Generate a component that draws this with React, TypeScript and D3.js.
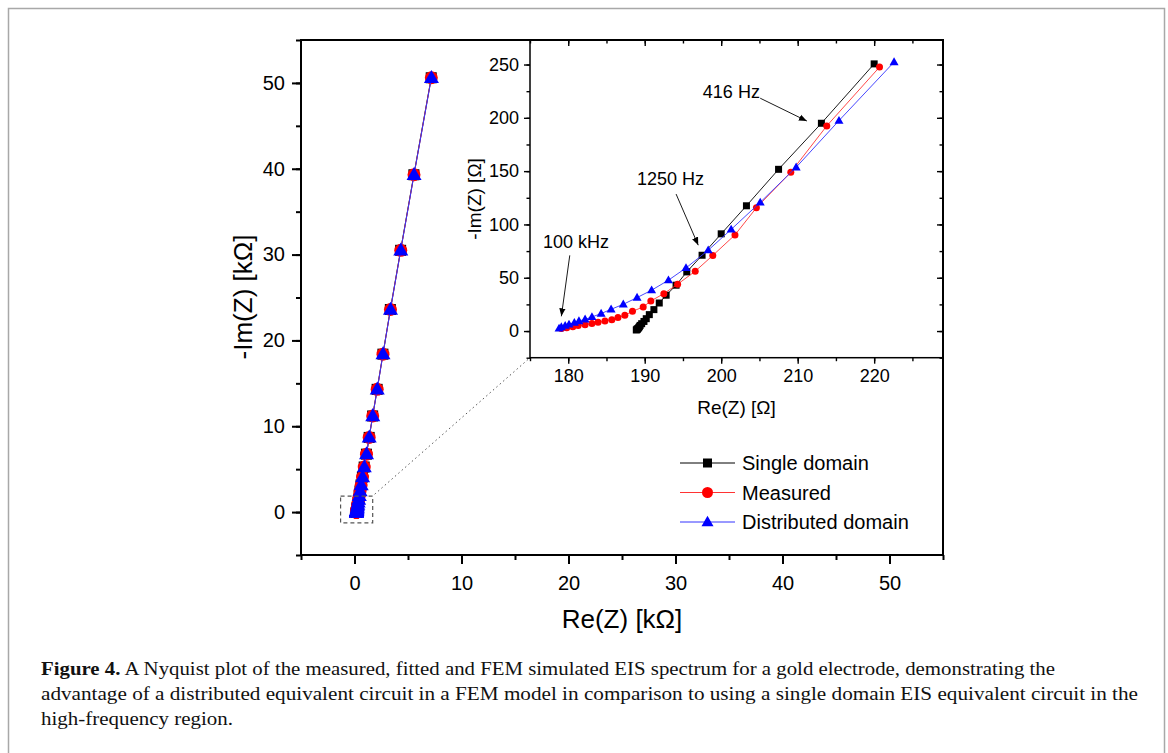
import { useEffect, useRef } from 'react';
import * as d3 from 'd3';

const W = 1168;
const H = 753;

// Re / -Im in ohm, from high to low frequency
const singleRe = [188.9, 189.0, 189.0, 189.1, 189.2, 189.3, 189.4, 189.6, 189.9, 190.2, 190.6, 191.2, 191.9, 192.8, 194.1, 195.5, 197.5, 200.0, 203.3, 207.5, 213.1, 220.0, 229, 240, 255, 275, 301, 335, 379, 437, 512, 610, 738, 903, 1115, 1370, 1695, 2115, 2655, 3350, 4310, 5550, 7170];
const singleIm = [1.0, 1.4, 1.8, 2.4, 3.1, 4.1, 5.3, 6.9, 9.0, 11.6, 15.4, 20.1, 26.3, 33.6, 43.0, 55.5, 71.1, 91.2, 117.5, 151.7, 194.9, 250.6, 322, 414, 534, 688, 888, 1140, 1470, 1900, 2450, 3160, 4080, 5250, 6750, 8700, 11200, 14300, 18400, 23600, 30500, 39300, 50600];

const measuredRe = [179.1, 179.8, 180.6, 181.3, 182.2, 183.1, 183.9, 184.8, 185.7, 186.5, 187.4, 188.4, 189.8, 190.8, 192.5, 194.3, 196.6, 198.9, 201.8, 204.6, 209.1, 213.8, 220.7, 230, 242, 258, 279, 306, 341, 386, 445, 520, 620, 750, 910, 1120, 1370, 1700, 2120, 2660, 3360, 4320, 5560, 7180];
const measuredIm = [2.5, 3.2, 4.1, 5.1, 6.0, 7.0, 8.2, 9.4, 10.7, 12.6, 14.8, 18.5, 22.6, 28.2, 35.1, 43.9, 56.1, 70.9, 90.2, 115.6, 148.9, 192.4, 247.6, 320, 410, 530, 685, 885, 1140, 1470, 1900, 2450, 3160, 4080, 5250, 6750, 8700, 11200, 14300, 18400, 23600, 30500, 39300, 50600];

const distRe = [178.8, 179.1, 179.6, 180.1, 180.8, 181.4, 182.2, 183.1, 184.3, 185.6, 187.2, 189.0, 190.9, 193.1, 195.4, 198.3, 201.3, 205.1, 209.8, 215.4, 222.6, 232, 245, 262, 283, 310, 345, 390, 449, 525, 625, 755, 915, 1125, 1375, 1705, 2125, 2665, 3365, 4325, 5565, 7190];
const distIm = [2.5, 3.8, 5.1, 6.3, 7.9, 9.4, 11.0, 13.2, 16.4, 20.4, 25.1, 31.4, 38.3, 47.7, 59.2, 75.8, 95.3, 120.7, 153.6, 197.4, 252.3, 325, 418, 538, 692, 892, 1145, 1475, 1905, 2455, 3165, 4085, 5255, 6755, 8705, 11205, 14305, 18405, 23605, 30505, 39305, 50605];

const seriesNames = ['Single domain', 'Measured', 'Distributed domain'];

const mainTicks = [0, 10, 20, 30, 40, 50];
const mainMinor = d3.range(-5, 56, 5);
const insetXTicks = [180, 190, 200, 210, 220];
const insetXMinor = d3.range(175, 230, 5);
const insetYTicks = [0, 50, 100, 150, 200, 250];
const insetYMinor = d3.range(-25, 275, 25);
// the inset only shows the high-frequency part of each spectrum
const insetMaxIm = 260;

// zoom box drawn on the main plot (kΩ)
const zoomBox = { x0: -1.3, x1: 1.7, y0: -1.25, y1: 1.85 };

// annotations in inset coordinates: text pos, arrow from, arrow to
const notes = [
  { label: '416 Hz', tx: 197.6, ty: 218.7, ax: 205.1, ay: 218.4, bx: 211.2, by: 197 },
  { label: '1250 Hz', tx: 189.0, ty: 137, ax: 194.1, ay: 128.5, bx: 197.0, by: 80.5 },
  { label: '100 kHz', tx: 176.7, ty: 77.7, ax: 180.2, ay: 71, bx: 179.1, by: 13.8 },
];

const captionLines = [
  'A Nyquist plot of the measured, fitted and FEM simulated EIS spectrum for a gold electrode, demonstrating the',
  'advantage of a distributed equivalent circuit in a FEM model in comparison to using a single domain EIS equivalent circuit in the',
  'high-frequency region.',
];

const SANS = 'Liberation Sans, Arial, sans-serif';

const App = () => {
  const svgRef = useRef<SVGSVGElement | null>(null);

  useEffect(() => {
    const svg = d3.select(svgRef.current);
    svg.selectAll('*').remove();

    const series = [
      { name: seriesNames[0], re: singleRe, im: singleIm, color: '#000000', line: '#000000', shape: 'square' },
      { name: seriesNames[1], re: measuredRe, im: measuredIm, color: '#ff0000', line: '#ff3333', shape: 'circle' },
      { name: seriesNames[2], re: distRe, im: distIm, color: '#0000ff', line: '#3333ff', shape: 'triangle' },
    ];

    // figure frame
    svg.append('rect').attr('x', 8.5).attr('y', 8.5).attr('width', 1156).attr('height', 770)
      .attr('fill', 'none').attr('stroke', '#a8a8a8').attr('stroke-width', 1.5);

    const defs = svg.append('defs');
    defs.append('marker').attr('id', 'arrow').attr('viewBox', '0 0 10 10').attr('refX', 10).attr('refY', 5)
      .attr('markerWidth', 8).attr('markerHeight', 8).attr('markerUnits', 'userSpaceOnUse').attr('orient', 'auto')
      .append('path').attr('d', 'M0,1 L10,5 L0,9 Z').attr('fill', '#000');

    // main scales (kΩ)
    const x = d3.scaleLinear().domain([-5, 55]).range([301, 943]);
    const y = d3.scaleLinear().domain([-5, 55]).range([555, 40]);

    const drawMarker = (g: any, shape: string, px: number, py: number, s: number, color: string) => {
      if (shape === 'circle') {
        g.append('circle').attr('cx', px).attr('cy', py).attr('r', s / 2).attr('fill', color);
      } else if (shape === 'square') {
        g.append('rect').attr('x', px - s / 2).attr('y', py - s / 2).attr('width', s).attr('height', s).attr('fill', color);
      } else {
        const h = s * 0.87;
        g.append('path')
          .attr('d', `M${px},${py - h * 0.6} L${px + s / 2},${py + h * 0.4} L${px - s / 2},${py + h * 0.4} Z`)
          .attr('fill', color);
      }
    };

    // main axes
    const mainAxes = svg.append('g').attr('font-family', SANS);
    const xm = mainAxes.append('g').attr('transform', 'translate(0,555)');
    xm.append('g').call(d3.axisBottom(x).tickValues(mainMinor).tickSize(5).tickFormat(() => ''));
    xm.append('g').call(d3.axisBottom(x).tickValues(mainTicks).tickSize(9).tickPadding(12).tickFormat(d3.format('d')));
    const ym = mainAxes.append('g').attr('transform', 'translate(301,0)');
    ym.append('g').call(d3.axisLeft(y).tickValues(mainMinor).tickSize(5).tickFormat(() => ''));
    ym.append('g').call(d3.axisLeft(y).tickValues(mainTicks).tickSize(9).tickPadding(7).tickFormat(d3.format('d')));
    mainAxes.selectAll('.domain').remove();
    mainAxes.selectAll('.tick line').attr('stroke', '#000').attr('stroke-width', 2);
    mainAxes.selectAll('.tick text').attr('font-size', 20).attr('fill', '#000').attr('font-family', SANS);

    svg.append('text').attr('x', 622).attr('y', 628).attr('text-anchor', 'middle')
      .attr('font-family', SANS).attr('font-size', 26).text('Re(Z) [kΩ]');
    svg.append('text').attr('transform', 'translate(252,297) rotate(-90)').attr('text-anchor', 'middle')
      .attr('font-family', SANS).attr('font-size', 26).text('-Im(Z) [kΩ]');

    // main data
    defs.append('clipPath').attr('id', 'main-clip').append('rect').attr('x', 301).attr('y', 40).attr('width', 642).attr('height', 515);
    const mainData = svg.append('g').attr('clip-path', 'url(#main-clip)');
    const mainSizes: Record<string, number> = { square: 11, circle: 13, triangle: 15 };
    series.forEach((s) => {
      const pts = s.re.map((r, i) => [x(r / 1000), y(s.im[i] / 1000)] as [number, number]);
      mainData.append('path').attr('d', d3.line()(pts)).attr('fill', 'none').attr('stroke', s.line).attr('stroke-width', 1);
      pts.forEach(([px, py]) => drawMarker(mainData, s.shape, px, py, mainSizes[s.shape], s.color));
    });

    svg.append('rect')
      .attr('x', x(zoomBox.x0)).attr('y', y(zoomBox.y1))
      .attr('width', x(zoomBox.x1) - x(zoomBox.x0)).attr('height', y(zoomBox.y0) - y(zoomBox.y1))
      .attr('fill', 'none').attr('stroke', '#555').attr('stroke-width', 1.2).attr('stroke-dasharray', '4,3');

    // inset scales (Ω)
    const xi = d3.scaleLinear().domain([175, 229]).range([530, 943]);
    const yi = d3.scaleLinear().domain([-25, 273]).range([357.7, 40]);

    svg.append('line')
      .attr('x1', x(zoomBox.x1) + 2).attr('y1', y(zoomBox.y1) - 2)
      .attr('x2', xi.range()[0]).attr('y2', yi.range()[0])
      .attr('stroke', '#555').attr('stroke-width', 1).attr('stroke-dasharray', '1.5,3');

    svg.append('rect').attr('x', 530).attr('y', 40).attr('width', 413).attr('height', 317.7).attr('fill', '#fff');

    defs.append('clipPath').attr('id', 'inset-clip').append('rect').attr('x', 530).attr('y', 40).attr('width', 413).attr('height', 317.7);
    const insetData = svg.append('g').attr('clip-path', 'url(#inset-clip)');
    const insetSizes: Record<string, number> = { square: 7, circle: 7, triangle: 9 };
    series.forEach((s) => {
      const pts = s.re
        .map((r, i) => ({ r, m: s.im[i] }))
        .filter((d) => d.m <= insetMaxIm)
        .map((d) => [xi(d.r), yi(d.m)] as [number, number]);
      insetData.append('path').attr('d', d3.line()(pts)).attr('fill', 'none').attr('stroke', s.line).attr('stroke-width', 0.9);
      pts.forEach(([px, py]) => drawMarker(insetData, s.shape, px, py, insetSizes[s.shape], s.color));
    });

    // inset axes
    const ia = svg.append('g').attr('font-family', SANS);
    const ib = ia.append('g').attr('transform', 'translate(0,357.7)');
    ib.append('g').call(d3.axisBottom(xi).tickValues(insetXMinor).tickSize(3.5).tickFormat(() => ''));
    ib.append('g').call(d3.axisBottom(xi).tickValues(insetXTicks).tickSize(6).tickPadding(5.5).tickFormat(d3.format('d')));
    const it = ia.append('g').attr('transform', 'translate(0,40)');
    it.append('g').call(d3.axisTop(xi).tickValues(insetXMinor).tickSize(-3.5).tickFormat(() => ''));
    it.append('g').call(d3.axisTop(xi).tickValues(insetXTicks).tickSize(-6).tickFormat(() => ''));
    const il = ia.append('g').attr('transform', 'translate(530,0)');
    il.append('g').call(d3.axisLeft(yi).tickValues(insetYMinor).tickSize(3.5).tickFormat(() => ''));
    il.append('g').call(d3.axisLeft(yi).tickValues(insetYTicks).tickSize(6).tickPadding(5).tickFormat(d3.format('d')));
    const ir = ia.append('g').attr('transform', 'translate(943,0)');
    ir.append('g').call(d3.axisRight(yi).tickValues(insetYMinor).tickSize(-3.5).tickFormat(() => ''));
    ir.append('g').call(d3.axisRight(yi).tickValues(insetYTicks).tickSize(-6).tickFormat(() => ''));
    ia.selectAll('.domain').remove();
    ia.selectAll('.tick line').attr('stroke', '#000').attr('stroke-width', 1.4);
    ia.selectAll('.tick text').attr('font-size', 18).attr('fill', '#000').attr('font-family', SANS);

    svg.append('rect').attr('x', 530).attr('y', 40).attr('width', 413).attr('height', 317.7)
      .attr('fill', 'none').attr('stroke', '#000').attr('stroke-width', 1.5);

    svg.append('text').attr('x', 736.5).attr('y', 414).attr('text-anchor', 'middle')
      .attr('font-family', SANS).attr('font-size', 19).text('Re(Z) [Ω]');
    svg.append('text').attr('transform', 'translate(481,199) rotate(-90)').attr('text-anchor', 'middle')
      .attr('font-family', SANS).attr('font-size', 19).text('-Im(Z) [Ω]');

    // annotations
    notes.forEach((n) => {
      svg.append('text').attr('x', xi(n.tx)).attr('y', yi(n.ty)).attr('font-family', SANS).attr('font-size', 18).text(n.label);
      svg.append('line').attr('x1', xi(n.ax)).attr('y1', yi(n.ay)).attr('x2', xi(n.bx)).attr('y2', yi(n.by))
        .attr('stroke', '#000').attr('stroke-width', 0.9).attr('marker-end', 'url(#arrow)');
    });

    // main frame (top & right shared with inset)
    svg.append('rect').attr('x', 301).attr('y', 40).attr('width', 642).attr('height', 515)
      .attr('fill', 'none').attr('stroke', '#000').attr('stroke-width', 2);

    // legend
    const legend = svg.append('g').attr('font-family', SANS);
    const legendSizes: Record<string, number> = { square: 9, circle: 11, triangle: 12 };
    series.forEach((s, i) => {
      const ly = 463 + i * 29.5;
      legend.append('line').attr('x1', 680).attr('x2', 735).attr('y1', ly).attr('y2', ly).attr('stroke', s.line).attr('stroke-width', 1);
      drawMarker(legend, s.shape, 707.5, ly, legendSizes[s.shape], s.color);
      legend.append('text').attr('x', 742).attr('y', ly).attr('dy', '0.35em').attr('font-size', 20).text(s.name);
    });

    // caption
    const cap = svg.append('g').attr('font-family', 'Liberation Serif, Times New Roman, serif').attr('font-size', 19).attr('fill', '#111');
    const lens = [1014, 1097, 192];
    captionLines.forEach((t, i) => {
      const txt = cap.append('text').attr('x', 41).attr('y', 675 + i * 25)
        .attr('textLength', lens[i]).attr('lengthAdjust', 'spacingAndGlyphs');
      if (i === 0) {
        txt.append('tspan').attr('font-weight', 'bold').text('Figure 4.');
        txt.append('tspan').text(' ' + t);
      } else {
        txt.text(t);
      }
    });
  }, []);

  return (
    <svg
      ref={svgRef}
      width={W}
      height={H}
      style={{ position: 'absolute', left: 0, top: 0, background: '#fff' }}
    />
  );
};

export default App;
